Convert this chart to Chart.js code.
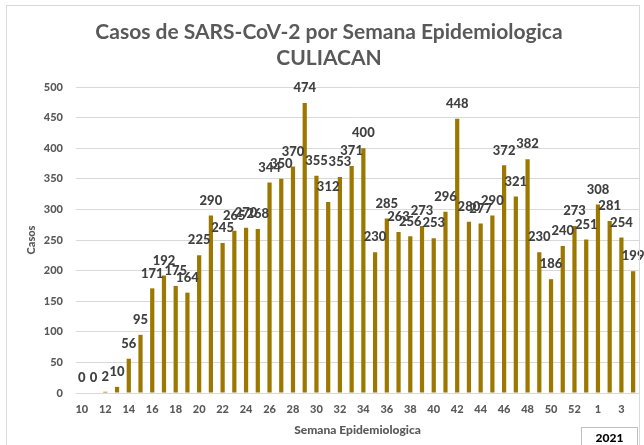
<!DOCTYPE html>
<html>
<head>
<meta charset="utf-8">
<script src="https://cdn.jsdelivr.net/npm/chart.js@4/dist/chart.umd.min.js"></script>
<style>
  html, body { margin: 0; padding: 0; background: #ffffff; }
  #wrap { position: relative; width: 644px; height: 445px; }
</style>
</head>
<body>
<div id="wrap"><canvas id="c" width="644" height="445"></canvas></div>
<script>
const weeks = ['10','11','12','13','14','15','16','17','18','19','20','21','22','23','24','25','26','27','28','29','30','31','32','33','34','35','36','37','38','39','40','41','42','43','44','45','46','47','48','49','50','51','52','53','1','2','3','4'];
const casos = [0,0,2,10,56,95,171,192,175,164,225,290,245,265,270,268,344,350,370,474,355,312,353,371,400,230,285,263,256,273,253,296,448,280,277,290,372,321,382,230,186,240,273,251,308,281,254,199];
const titleLines = ['Casos de SARS-CoV-2 por Semana Epidemiologica', 'CULIACAN'];
const xTitle = 'Semana Epidemiologica';
const yTitle = 'Casos';
const yearLabel = '2021';

const FONT = 'Lato, "Open Sans", "Liberation Sans", sans-serif';

const decorPlugin = {
  id: 'decor',
  afterDatasetsDraw(chart) {
    const ctx = chart.ctx;
    const meta = chart.getDatasetMeta(0);
    ctx.save();
    ctx.font = '900 13px ' + FONT;
    ctx.fillStyle = '#404040';
    ctx.textAlign = 'center';
    ctx.textBaseline = 'middle';
    meta.data.forEach((bar, i) => {
      ctx.fillText(String(casos[i]), bar.x, bar.y - 15);
    });
    ctx.restore();
  },
  afterDraw(chart) {
    const ctx = chart.ctx;
    ctx.save();
    // chart title
    ctx.fillStyle = '#595959';
    ctx.font = 'bold 21px ' + FONT;
    ctx.textAlign = 'center';
    ctx.textBaseline = 'middle';
    ctx.fillText(titleLines[0], 329, 32);
    ctx.fillText(titleLines[1], 329, 58);
    // outer frame
    ctx.strokeStyle = '#d9d9d9';
    ctx.lineWidth = 1;
    ctx.strokeRect(6.5, 5.5, 633, 445);
    // year box
    ctx.strokeStyle = '#bfbfbf';
    ctx.strokeRect(581.5, 427.5, 56, 20);
    ctx.fillStyle = '#000000';
    ctx.font = '900 12px ' + FONT;
    ctx.fillText(yearLabel, 609.5, 438);
    ctx.restore();
  }
};

new Chart(document.getElementById('c'), {
  type: 'bar',
  data: {
    labels: weeks,
    datasets: [{
      data: casos,
      backgroundColor: '#9C7800',
      borderWidth: 0,
      categoryPercentage: 1.0,
      barPercentage: 0.36
    }]
  },
  options: {
    responsive: false,
    animation: false,
    devicePixelRatio: 1,
    layout: { padding: { left: 0, right: 5, top: 87, bottom: 0 } },
    plugins: {
      legend: { display: false },
      tooltip: { enabled: false },
      title: { display: false }
    },
    scales: {
      x: {
        grid: { display: false, drawTicks: false },
        border: { display: true, color: '#d9d9d9' },
        ticks: {
          autoSkip: false,
          maxRotation: 0,
          padding: 10,
          color: '#595959',
          font: { family: FONT, size: 11, weight: '900' },
          callback: function(v, i) { return i % 2 === 0 ? weeks[i] : ''; }
        },
        title: {
          display: true,
          text: xTitle,
          color: '#595959',
          font: { family: FONT, size: 12, weight: '900' },
          padding: { top: 0, bottom: 8 }
        },
        afterFit(scale) { scale.height = 52; }
      },
      y: {
        min: 0,
        max: 500,
        grid: { color: '#d9d9d9', drawTicks: false },
        border: { display: false },
        ticks: {
          stepSize: 50,
          padding: 13,
          color: '#595959',
          font: { family: FONT, size: 11, weight: '900' }
        },
        title: {
          display: true,
          text: yTitle,
          color: '#595959',
          font: { family: FONT, size: 11, weight: '900' },
          padding: { top: 25, bottom: 0 }
        },
        afterFit(scale) { scale.width = 76; }
      }
    }
  },
  plugins: [decorPlugin]
});
</script>
</body>
</html>
